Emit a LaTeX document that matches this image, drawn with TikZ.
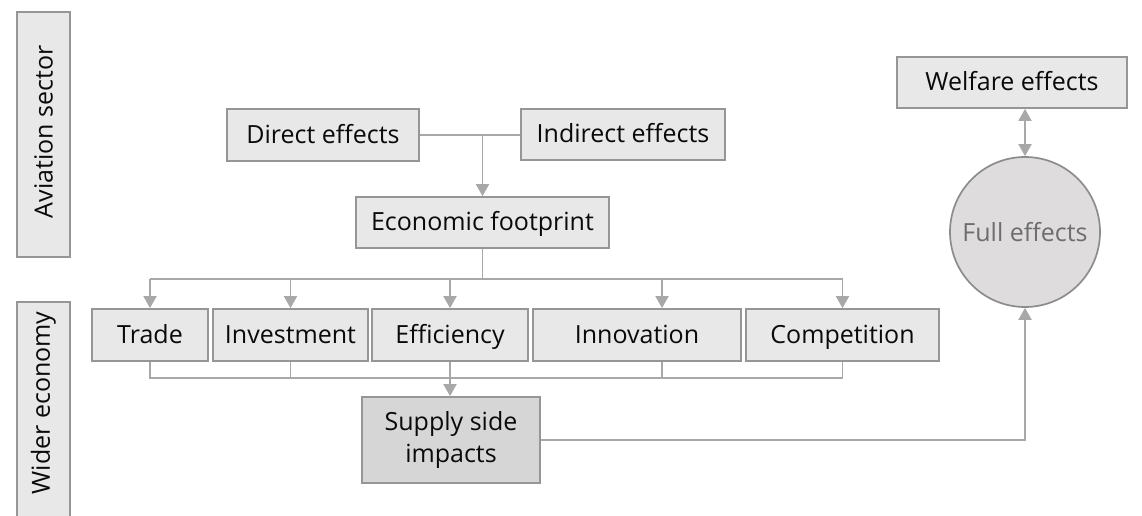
\documentclass[tikz,border=0pt]{standalone}
\usepackage{fontspec}
\setmainfont{Open Sans}
\usetikzlibrary{arrows.meta}
\definecolor{boxfill}{HTML}{E8E8E8}
\definecolor{boxline}{HTML}{969696}
\definecolor{conn}{HTML}{A8A8A8}
\definecolor{supfill}{HTML}{D6D6D6}
\definecolor{circfill}{HTML}{DEDCDC}
\definecolor{circline}{HTML}{8C8C8C}
\definecolor{txt}{HTML}{0A0A0A}
\definecolor{fulltxt}{HTML}{6E6E6E}
\tikzset{
  gbox/.style={draw=boxline, fill=boxfill, line width=1.7pt, inner sep=0pt, anchor=center,
    font=\fontsize{25}{32}\selectfont, text=txt, align=center, text height=17pt, text depth=1pt},
  sidetext/.style={rotate=90, font=\fontsize{25}{31}\selectfont, text=txt},
  conline/.style={draw=conn, line width=1.8pt},
  arr/.style={conline, -{Triangle[width=13pt,length=12pt]}},
  darr/.style={conline, {Triangle[width=13pt,length=12pt]}-{Triangle[width=13pt,length=12pt]}},
}
\begin{document}
\begin{tikzpicture}[x=1pt,y=-1pt]
\useasboundingbox (0,0) rectangle (1142,516);
% side labels
\node[gbox, minimum width=53pt, minimum height=245pt] (aviation) at (43.5,134.5) {};
\node[sidetext] (aviationtext) at (43.5,132) {Aviation sector};
\node[gbox, minimum width=53pt, minimum height=224pt] (widerbox) at (43.5,414) {};
\node[sidetext] (widertext) at (43.5,403) {Wider economy};
% top
\node[gbox, minimum width=192pt, minimum height=52pt] (direct) at (323,135) {Direct effects};
\node[gbox, minimum width=204pt, minimum height=51pt] (indirect) at (623,134.5) {Indirect effects};
\node[gbox, minimum width=253pt, minimum height=51pt] (footprint) at (482.5,222.5) {Economic footprint};
% middle row
\node[gbox, minimum width=116pt, minimum height=52pt] (trade) at (150,335) {Trade};
\node[gbox, minimum width=155pt, minimum height=52pt] (investment) at (290.5,335) {Investment};
\node[gbox, minimum width=156pt, minimum height=52pt] (efficiency) at (450,335) {Efficiency};
\node[gbox, minimum width=208pt, minimum height=52pt] (innovation) at (637,335) {Innovation};
\node[gbox, minimum width=193pt, minimum height=52pt] (competition) at (842.5,335) {Competition};
% supply
\node[gbox, fill=supfill, text height=, text depth=, minimum width=178pt, minimum height=86pt] (supply) at (451,440) {Supply side\\impacts};
% right
\node[draw=circline, fill=circfill, line width=1.7pt, circle, minimum size=150pt, inner sep=0pt,
  font=\fontsize{25}{31}\selectfont, text=fulltxt] (full) at (1025,232) {Full effects};
\node[gbox, minimum width=230pt, minimum height=51pt] (welfare) at (1012,82.5) {Welfare effects};
% coordinates
\coordinate (j1) at (footprint.north |- direct.east);
\coordinate (top) at (482.5,279);
\coordinate (tl) at (150,279);
\coordinate (tr) at (842.5,279);
\coordinate (innotop) at (662,279);
\coordinate (bl) at (150,378);
\coordinate (br) at (842.5,378);
\coordinate (innobot) at (662,378);
\coordinate (invbot) at (290.5,378);
\coordinate (corner) at (full.south |- supply.east);
% connectors top
\draw[conline] (direct.east) -- (indirect.west |- direct.east);
\draw[arr] (j1) -- (footprint.north);
\draw[conline] (footprint.south) -- (top);
\draw[conline] (tl) -- (tr);
\draw[arr] (tl) -- (trade.north);
\draw[arr] (investment.north |- tl) -- (investment.north);
\draw[arr] (efficiency.north |- tl) -- (efficiency.north);
\draw[arr] (innotop) -- (innotop |- innovation.north);
\draw[arr] (tr) -- (competition.north);
% connectors bottom
\draw[conline] (trade.south) -- (bl) -- (br) -- (competition.south);
\draw[conline] (investment.south) -- (invbot);
\draw[conline] (innobot |- innovation.south) -- (innobot);
\draw[arr] (efficiency.south) -- (efficiency.south |- supply.north);
\draw[arr] (supply.east) -- (corner) -- (full.south);
\draw[darr] (full.north |- welfare.south) -- (full.north);
\end{tikzpicture}
\end{document}
